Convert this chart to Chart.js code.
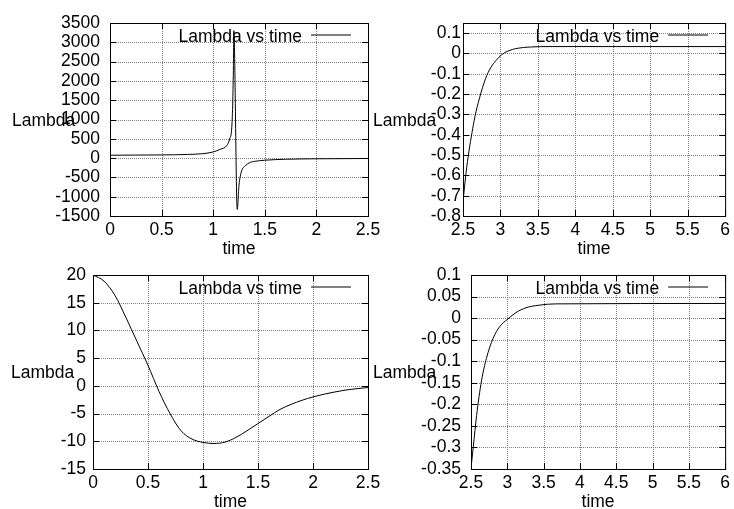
<!DOCTYPE html>
<html>
<head>
<meta charset="utf-8">
<script src="https://cdn.jsdelivr.net/npm/chart.js@4/dist/chart.umd.min.js"></script>
<style>
  html, body { margin: 0; padding: 0; background: #fff; }
  #wrap { position: relative; width: 734px; height: 509px; overflow: hidden; }
  #wrap canvas { position: absolute; left: 0; top: 0; }
</style>
</head>
<body>
<div id="wrap">
  <canvas id="c1" width="734" height="509"></canvas>
  <canvas id="c2" width="734" height="509"></canvas>
  <canvas id="c3" width="734" height="509"></canvas>
  <canvas id="c4" width="734" height="509"></canvas>
</div>
<script>
// top left: spike near t = 1.2
var time1   = [0, 0.25, 0.5, 0.75, 0.9, 1.0, 1.07, 1.13, 1.16, 1.18, 1.19, 1.196, 1.2, 1.233, 1.25, 1.26, 1.28, 1.31, 1.36, 1.4, 1.5, 1.7, 2.0, 2.5];
var lambda1 = [75, 78, 82, 95, 115, 160, 230, 320, 500, 800, 1500, 2400, 3300, -1330, -700, -500, -300, -200, -110, -85, -55, -30, -18, -10];
var xTicks1 = [0, 0.5, 1, 1.5, 2, 2.5];
var yTicks1 = [-1500, -1000, -500, 0, 500, 1000, 1500, 2000, 2500, 3000, 3500];

// top right
var time2   = [2.5, 2.54, 2.58, 2.62, 2.66, 2.72, 2.8, 2.87, 2.94, 3.02, 3.1, 3.22, 3.4, 3.7, 4.5, 6];
var lambda2 = [-0.73, -0.59, -0.48, -0.39, -0.31, -0.22, -0.125, -0.07, -0.035, -0.005, 0.012, 0.025, 0.032, 0.034, 0.034, 0.034];
var xTicks2 = [2.5, 3, 3.5, 4, 4.5, 5, 5.5, 6];
var yTicks2 = [-0.8, -0.7, -0.6, -0.5, -0.4, -0.3, -0.2, -0.1, 0, 0.1];

// bottom left
var time3   = [0, 0.1, 0.2, 0.3, 0.4, 0.5, 0.6, 0.7, 0.8, 0.9, 1.0, 1.1, 1.2, 1.3, 1.4, 1.5, 1.6, 1.7, 1.8, 1.9, 2.0, 2.1, 2.2, 2.3, 2.4, 2.5];
var lambda3 = [20, 18.9, 16.3, 12.3, 8.0, 3.7, -1.0, -5.0, -8.1, -9.6, -10.2, -10.4, -10.15, -9.3, -8.1, -6.8, -5.5, -4.25, -3.35, -2.6, -2.0, -1.5, -1.1, -0.75, -0.5, -0.3];
var xTicks3 = [0, 0.5, 1, 1.5, 2, 2.5];
var yTicks3 = [-15, -10, -5, 0, 5, 10, 15, 20];

// bottom right
var time4   = [2.5, 2.532, 2.577, 2.645, 2.713, 2.804, 2.894, 3.008, 3.121, 3.257, 3.438, 3.665, 6];
var lambda4 = [-0.348, -0.298, -0.226, -0.145, -0.093, -0.047, -0.02, -0.002, 0.013, 0.024, 0.030, 0.033, 0.034];
var xTicks4 = [2.5, 3, 3.5, 4, 4.5, 5, 5.5, 6];
var yTicks4 = [-0.35, -0.3, -0.25, -0.2, -0.15, -0.1, -0.05, 0, 0.05, 0.1];

var seriesLabel = "Lambda vs time";
var xTitle = "time";
var yTitle = "Lambda";

var W = 734, H = 509;
var FONT = "'Liberation Sans', Arial, sans-serif";
var FSIZE = 17.5;

Chart.defaults.font.family = FONT;
Chart.defaults.font.size = FSIZE;
Chart.defaults.color = '#000';

function makePoints(xs, ys)
{
  var pts = [];
  for (var i = 0; i < xs.length; i++) pts.push({x: xs[i], y: ys[i]});
  return pts;
}

// gnuplot look: dotted grid, frame, inward tics, key, horizontal ylabel
var gnuplotFrame = {
  id: 'gnuplotFrame',
  beforeDraw: function(chart, args, opts)
  {
    // ylabel goes under the tick labels, as in gnuplot
    var ctx = chart.ctx, a = chart.chartArea;
    ctx.save();
    ctx.font = FSIZE + 'px ' + FONT;
    ctx.fillStyle = '#000';
    ctx.textAlign = 'left';
    ctx.textBaseline = 'alphabetic';
    ctx.fillText(yTitle, opts.labelX, (a.top + a.bottom) / 2 + 6);
    ctx.restore();
  },
  beforeDatasetsDraw: function(chart)
  {
    var ctx = chart.ctx, a = chart.chartArea;
    var xs = chart.scales.x, ys = chart.scales.y;
    ctx.save();
    ctx.strokeStyle = '#808080';
    ctx.lineWidth = 1;
    ctx.setLineDash([1, 1]);
    xs.ticks.forEach(function(t) {
      var px = Math.round(xs.getPixelForValue(t.value)) + 0.5;
      ctx.beginPath(); ctx.moveTo(px, a.top); ctx.lineTo(px, a.bottom); ctx.stroke();
    });
    ys.ticks.forEach(function(t) {
      var py = Math.round(ys.getPixelForValue(t.value)) + 0.5;
      ctx.beginPath(); ctx.moveTo(a.left, py); ctx.lineTo(a.right, py); ctx.stroke();
    });
    ctx.restore();
  },
  afterDatasetsDraw: function(chart)
  {
    var ctx = chart.ctx, a = chart.chartArea;
    var xs = chart.scales.x, ys = chart.scales.y;
    var tl = 6;
    ctx.save();
    ctx.strokeStyle = '#000';
    ctx.lineWidth = 1;
    ctx.setLineDash([]);
    ctx.strokeRect(a.left + 0.5, a.top + 0.5, a.right - a.left, a.bottom - a.top);
    ctx.beginPath();
    xs.ticks.forEach(function(t) {
      var px = Math.round(xs.getPixelForValue(t.value)) + 0.5;
      ctx.moveTo(px, a.bottom); ctx.lineTo(px, a.bottom - tl);
      ctx.moveTo(px, a.top); ctx.lineTo(px, a.top + tl);
    });
    ys.ticks.forEach(function(t) {
      var py = Math.round(ys.getPixelForValue(t.value)) + 0.5;
      ctx.moveTo(a.left, py); ctx.lineTo(a.left + tl, py);
      ctx.moveTo(a.right, py); ctx.lineTo(a.right - tl, py);
    });
    ctx.stroke();

    // key, top right inside the frame
    ctx.font = FSIZE + 'px ' + FONT;
    ctx.fillStyle = '#000';
    ctx.textAlign = 'right';
    ctx.textBaseline = 'alphabetic';
    ctx.fillText(seriesLabel, a.right - 66, a.top + 19);
    ctx.beginPath();
    ctx.moveTo(a.right - 57, a.top + 12);
    ctx.lineTo(a.right - 17, a.top + 12);
    ctx.stroke();
    ctx.restore();
  }
};

var panels = [
  {id: 'c1', xs: time1, ys: lambda1, xMin: 0,   xMax: 2.5, yMin: -1500, yMax: 3500, xTicks: xTicks1, yTicks: yTicks1,
   L: 110, T: 23,  R: 368, B: 216, gap: 10, labelX: 12},
  {id: 'c2', xs: time2, ys: lambda2, xMin: 2.5, xMax: 6,   yMin: -0.8,  yMax: 0.15, xTicks: xTicks2, yTicks: yTicks2,
   L: 463, T: 23,  R: 728, B: 216, gap: 2,  labelX: 373},
  {id: 'c3', xs: time3, ys: lambda3, xMin: 0,   xMax: 2.5, yMin: -15,   yMax: 20,   xTicks: xTicks3, yTicks: yTicks3,
   L: 93,  T: 275, R: 368, B: 469, gap: 7,  labelX: 11},
  {id: 'c4', xs: time4, ys: lambda4, xMin: 2.5, xMax: 6,   yMin: -0.35, yMax: 0.1,  xTicks: xTicks4, yTicks: yTicks4,
   L: 471, T: 275, R: 728, B: 469, gap: 10, labelX: 373}
];

var charts = [];

panels.forEach(function(p) {
  var xTickList = p.xTicks, yTickList = p.yTicks;
  charts.push(new Chart(document.getElementById(p.id), {
    type: 'line',
    data: {
      datasets: [{
        label: seriesLabel,
        data: makePoints(p.xs, p.ys),
        borderColor: '#000',
        borderWidth: 1,
        pointRadius: 0,
        fill: false,
        cubicInterpolationMode: 'monotone'
      }]
    },
    options: {
      responsive: false,
      animation: false,
      events: [],
      layout: { padding: { left: 0, top: p.T, right: W - p.R, bottom: 0 } },
      plugins: {
        legend: { display: false },
        tooltip: { enabled: false },
        gnuplotFrame: { labelX: p.labelX }
      },
      scales: {
        x: {
          type: 'linear',
          min: p.xMin, max: p.xMax,
          afterBuildTicks: function(s) { s.ticks = xTickList.map(function(v) { return {value: v}; }); },
          afterFit: function(s) { s.height = H - p.B; },
          grid: { display: false, drawTicks: false },
          border: { display: false },
          ticks: { autoSkip: false, maxRotation: 0, padding: 4, callback: function(v) { return String(v); } },
          title: { display: true, text: xTitle, padding: { top: 0, bottom: H - (p.B + 33) - 10.5 } }
        },
        y: {
          type: 'linear',
          min: p.yMin, max: p.yMax,
          afterBuildTicks: function(s) { s.ticks = yTickList.map(function(v) { return {value: v}; }); },
          afterFit: function(s) { s.width = p.L; },
          grid: { display: false, drawTicks: false },
          border: { display: false },
          ticks: { autoSkip: false, padding: p.gap, callback: function(v) { return String(v); } }
        }
      }
    },
    plugins: [gnuplotFrame]
  }));
});
</script>
</body>
</html>
